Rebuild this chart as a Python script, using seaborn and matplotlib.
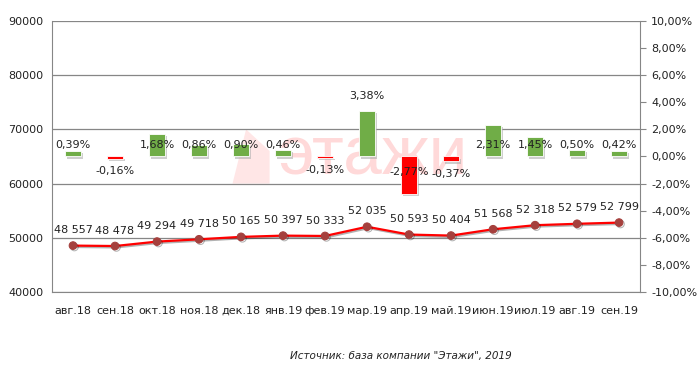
import numpy as np
import pandas as pd
import seaborn as sns
import matplotlib.pyplot as plt
import matplotlib.patheffects as pe
from matplotlib.patches import Polygon

# data
months = ["авг.18", "сен.18", "окт.18", "ноя.18", "дек.18", "янв.19", "фев.19",
          "мар.19", "апр.19", "май.19", "июн.19", "июл.19", "авг.19", "сен.19"]
prices = [48557, 48478, 49294, 49718, 50165, 50397, 50333,
          52035, 50593, 50404, 51568, 52318, 52579, 52799]
changes = [0.39, -0.16, 1.68, 0.86, 0.90, 0.46, -0.13,
           3.38, -2.77, -0.37, 2.31, 1.45, 0.50, 0.42]

sns.set_style("white")
plt.rcParams["font.family"] = ["DejaVu Sans"]

df = pd.DataFrame({"month": months, "price": prices, "change": changes})
df["sign"] = np.where(df["change"] >= 0, "up", "down")

fig = plt.figure(figsize=(6.98, 3.77), dpi=100)
ax = fig.add_axes([0.0745, 0.2255, 0.8425, 0.719])
ax2 = ax.twinx()

grey = "#868686"

# watermark
ax.text(0.545, 0.50, "этажи", transform=ax.transAxes, fontsize=50,
        color="#ffd9d9", ha="center", va="center", zorder=0,
        family="Liberation Sans")
ax.add_patch(Polygon([[0.307, 0.40], [0.33, 0.60], [0.37, 0.52], [0.37, 0.40]],
                     closed=True, transform=ax.transAxes, color="#ffe6e6",
                     zorder=0, lw=0))

# percent change bars on the right axis
shadow = [pe.SimplePatchShadow(offset=(1.5, -1.5), shadow_rgbFace="#b0b0b0", alpha=0.6),
          pe.Normal()]
sns.barplot(data=df, x="month", y="change", hue="sign", ax=ax2, dodge=False,
            palette={"up": "#70ad47", "down": "#ff0000"}, width=0.38,
            saturation=1, legend=False, edgecolor="white", linewidth=0.6)
for p in ax2.patches:
    p.set_path_effects(shadow)

for i, v in enumerate(changes):
    if v > 3:
        y = v + 1.1
    elif v >= 0:
        y = 0.85
    elif v < -1:
        y = -1.15
    else:
        y = v - 0.9
    ax2.text(i, y, f"{v:.2f}%".replace(".", ","), ha="center", va="center",
             fontsize=8, color="#222222")

# average price line on the left axis
sns.lineplot(data=df, x="month", y="price", ax=ax, color="#ff0000", lw=1.6,
             marker="o", markersize=5.5, markerfacecolor="#a5403d",
             markeredgecolor="#a5403d", sort=False, zorder=3,
             path_effects=[pe.SimpleLineShadow(offset=(1, -1), alpha=0.3), pe.Normal()])
for i, v in enumerate(prices):
    ax.annotate(f"{v:,}".replace(",", " "), (i, v), xytext=(0, 7.5),
                textcoords="offset points", ha="center", va="bottom",
                fontsize=8, color="#222222")

ax.set_xlim(-0.5, len(months) - 0.5)
ax.set_ylim(40000, 90000)
ax.set_yticks(range(40000, 90001, 10000))
ax2.set_ylim(-10, 10)
ax2.set_yticks(range(-10, 11, 2))
ax2.set_yticklabels([f"{t:.2f}%".replace(".", ",") for t in range(-10, 11, 2)])

ax.grid(axis="y", color=grey, lw=0.9)
ax.grid(axis="x", visible=False)
ax2.grid(False)
ax.set_xlabel("")
ax.set_ylabel("")
ax2.set_xlabel("")
ax2.set_ylabel("")

# category boundary ticks on the x axis
ax.set_xticks(np.arange(len(months)))
ax.set_xticklabels(months)
ax.set_xticks(np.arange(len(months) + 1) - 0.5, minor=True)
ax.tick_params(axis="x", which="major", length=0, pad=10, labelsize=8, colors="#222222")
ax.tick_params(axis="x", which="minor", length=4, color=grey, direction="out")
ax.tick_params(axis="y", length=0, labelsize=8, pad=6, colors="#222222")
ax2.tick_params(axis="y", length=4, color=grey, direction="out", labelsize=8,
                pad=4, labelcolor="#222222")

for a in (ax, ax2):
    for s in a.spines.values():
        s.set_visible(False)
ax.spines["left"].set_visible(True)
ax.spines["left"].set_color(grey)
ax.spines["bottom"].set_visible(True)
ax.spines["bottom"].set_color(grey)
ax2.spines["right"].set_visible(True)
ax2.spines["right"].set_color(grey)

fig.text(0.575, 0.055, "Источник: база компании \"Этажи\", 2019", ha="center",
         va="center", fontsize=7.5, style="italic", color="#222222")

fig.savefig("out.png", dpi=100)
